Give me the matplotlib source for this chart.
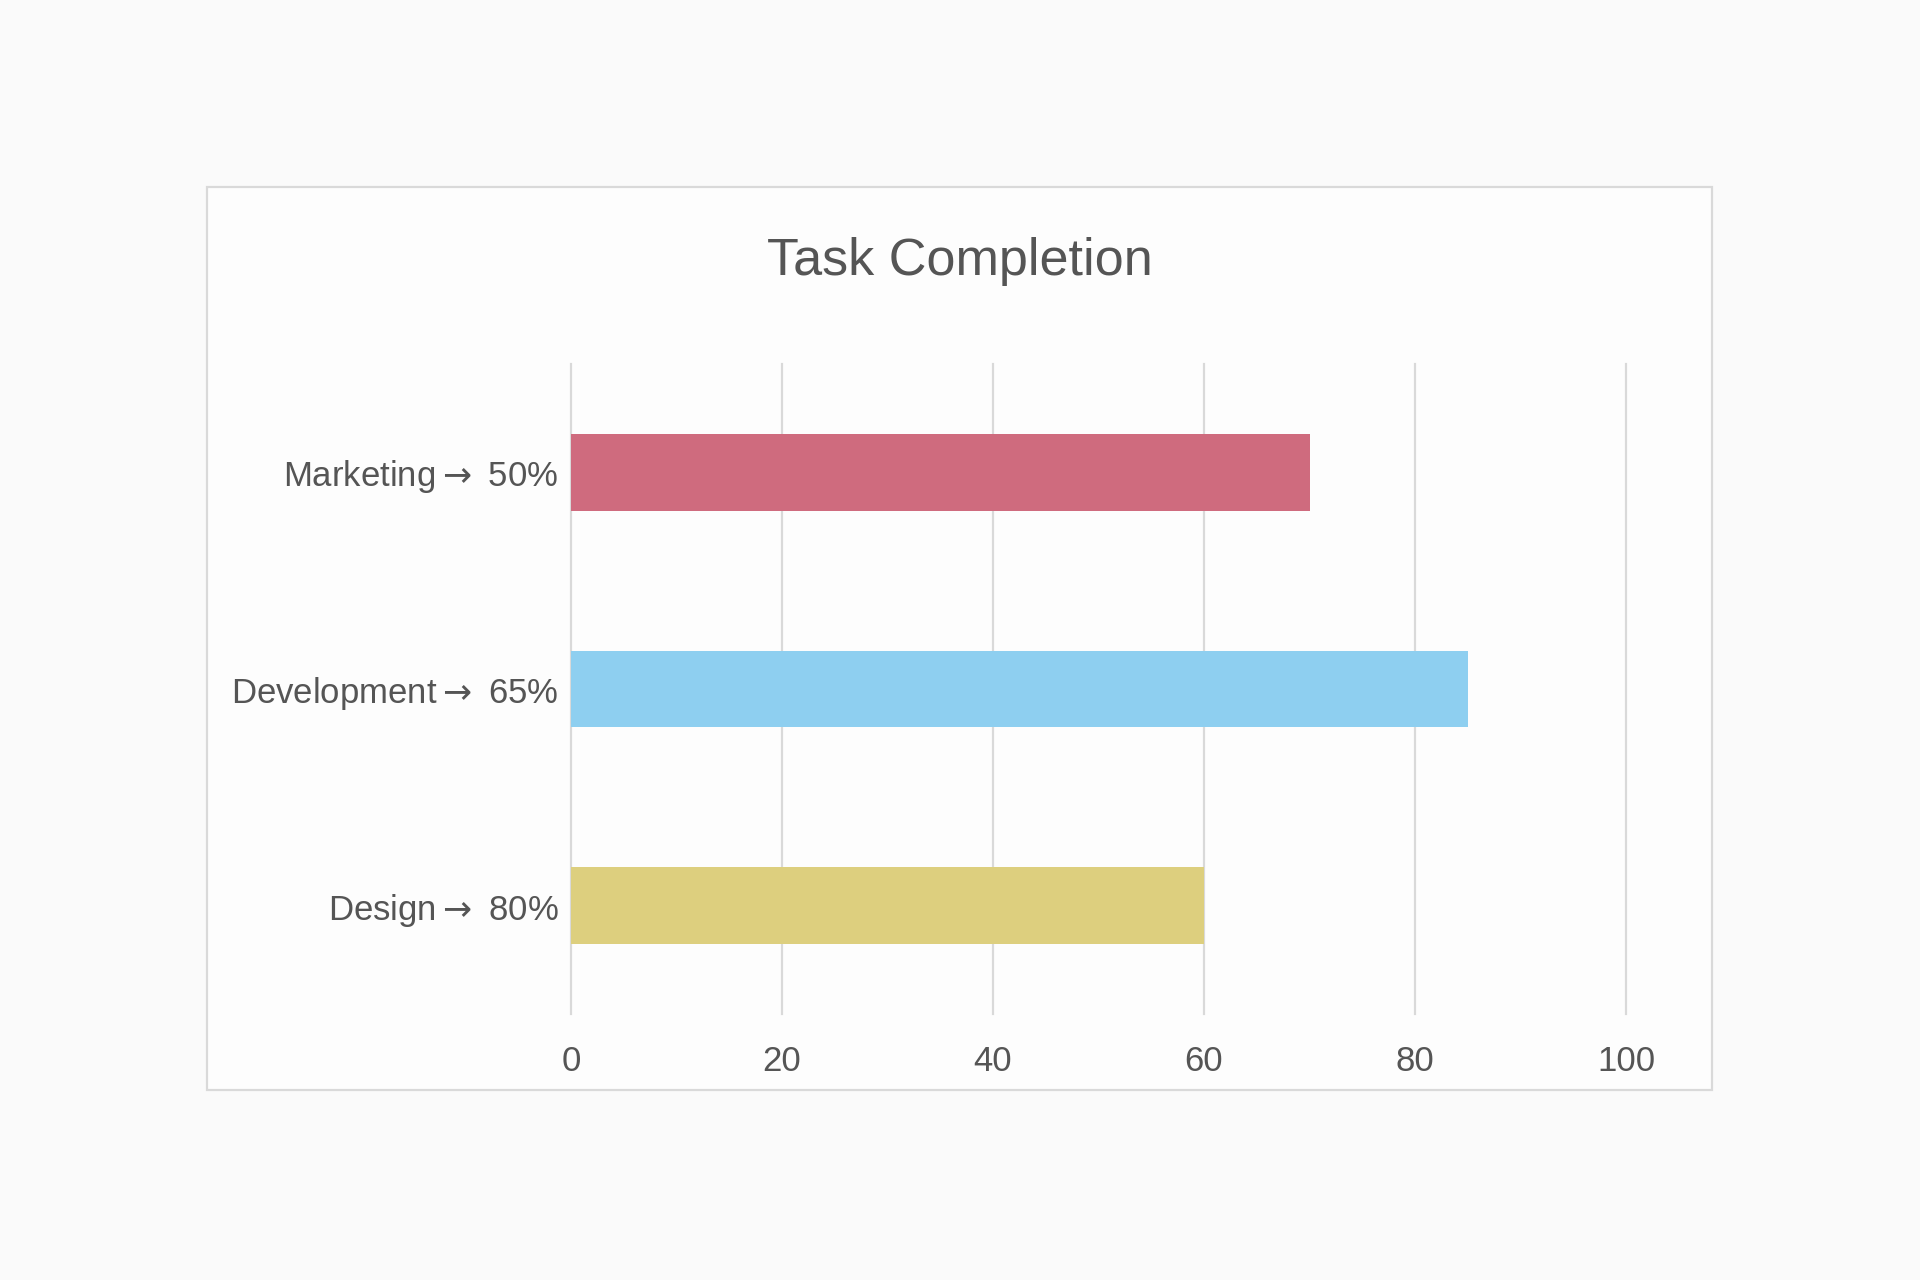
import matplotlib
matplotlib.use("Agg")
import matplotlib.pyplot as plt
from matplotlib.patches import Rectangle

plt.rcParams['font.family'] = ['Liberation Sans', 'DejaVu Sans']
plt.rcParams['mathtext.fontset'] = 'dejavusans'

categories = ["Marketing", "Development", "Design"]
targets = ["50%", "65%", "80%"]
values = [70, 85, 60]
colors = ["#cf6b7e", "#8ecff0", "#ddcf7e"]
xticks = [0, 20, 40, 60, 80, 100]
title = "Task Completion"

text_color = "#555555"
grid_color = "#d9d9d9"

labels = [f"{c}$\\rightarrow$ {t}" for c, t in zip(categories, targets)]

fig = plt.figure(figsize=(19.2, 12.8), dpi=100, facecolor="#fafafa")

# outer card
card = Rectangle((207 / 1920, 1 - 1090 / 1280), (1712 - 207) / 1920, (1090 - 187) / 1280,
                 transform=fig.transFigure, facecolor="#fdfdfd", edgecolor=grid_color,
                 linewidth=1.6, zorder=-5)
fig.patches.append(card)

fig.text(0.5, 1 - 275 / 1280, title, ha="center", va="baseline",
         fontsize=37.5, color=text_color)

ax = fig.add_axes([571 / 1920, 1 - 1014 / 1280, (1626 - 571) / 1920, (1014 - 364) / 1280])
ax.set_facecolor("none")
ax.set_zorder(2)

ypos = list(range(len(categories)))
ax.barh(ypos, values, height=0.355, color=colors, zorder=3)

ax.set_xlim(0, 100)
ax.set_ylim(-0.5, len(categories) - 0.5)
ax.invert_yaxis()
ax.set_xticks(xticks)
ax.set_xticklabels([str(t) for t in xticks])
ax.set_yticks(ypos)
ax.set_yticklabels(labels)

ax.tick_params(axis="x", length=0, pad=22, labelsize=25, labelcolor=text_color)
ax.tick_params(axis="y", length=0, pad=9, labelsize=25, labelcolor=text_color)

ax.grid(axis="x", color=grid_color, linewidth=1.6, zorder=1)
ax.grid(axis="y", visible=False)
ax.set_axisbelow(True)
for line in ax.get_xgridlines():
    line.set_clip_on(False)
for s in ax.spines.values():
    s.set_visible(False)

fig.savefig("out.png", dpi=100, facecolor=fig.get_facecolor())
